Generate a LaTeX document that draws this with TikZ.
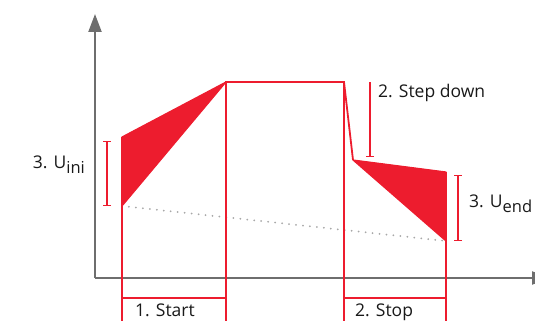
\documentclass[tikz,border=0pt]{standalone}
\usepackage{fontspec}
\setmainfont{Open Sans}
\usetikzlibrary{arrows.meta}
\definecolor{abbred}{HTML}{ED1C2E}
\definecolor{axisgray}{HTML}{6E6E6E}
\definecolor{dotgray}{HTML}{A8A8A8}
\tikzstyle{axis} = [draw=axisgray, line width=2.2pt, -{Triangle[length=18pt,width=13pt]}]
\tikzstyle{curve} = [draw=abbred, line width=1.8pt, line join=miter]
\tikzstyle{band} = [fill=abbred, draw=abbred, line width=1.2pt, line join=round]
\tikzstyle{span} = [draw=abbred, line width=1.4pt, {Bar[width=8pt]}-{Bar[width=8pt]}]
\tikzstyle{label} = [font=\fontsize{17.5}{19}\selectfont, text=black!90, inner sep=0pt]
\newcommand{\lowidx}[1]{{\fontsize{16.5}{17}\selectfont\raisebox{-5pt}{#1}}}

\begin{document}
\begin{tikzpicture}[x=1pt, y=-1pt]
	\useasboundingbox (0,0) rectangle (535,321);

	% axes
	\coordinate (origin) at (95,278);
	\coordinate (ytop) at (95,14);
	\coordinate (xend) at (550,278);
	\draw [axis] (origin) -- (ytop);
	\draw [axis] (origin) -- (xend);

	% points of the curve
	\coordinate (uini) at (122,206);
	\coordinate (start) at (122,137);
	\coordinate (peak) at (226,82);
	\coordinate (hold) at (344,82);
	\coordinate (step) at (353,160);
	\coordinate (stop) at (446,172);
	\coordinate (uend) at (446,241);

	% reference line
	\draw [dotgray, line width=2pt, line cap=round, dash pattern=on 0pt off 7pt] (uini) -- (uend);

	% bands
	\draw [band] (start) -- (peak) -- (uini) -- cycle;
	\draw [band] (step) -- (stop) -- (uend) -- cycle;

	% curve and limits
	\draw [curve] (122,330) -- (start);
	\draw [curve] (226,330) -- (peak) -- (hold) -- (step);
	\draw [curve] (344,330) -- (hold);
	\draw [curve] (446,330) -- (stop);

	% spans
	\draw [span] (107,141) -- (107,206);
	\draw [draw=abbred, line width=1.4pt, -{Bar[width=8pt]}] (370,82) -- (370,157);
	\draw [span] (458,175) -- (458,241);
	\draw [span, {Bar[width=6pt]}-{Bar[width=6pt]}] (122,298) -- (226,298);
	\draw [span, {Bar[width=6pt]}-{Bar[width=6pt]}] (344,298) -- (446,298);

	% labels
	\node (lini) [label, anchor=base east] at (85,168) {3. U\lowidx{ini}};
	\node (lstep) [label, anchor=base west] at (378,97) {2. Step down};
	\node (lend) [label, anchor=base west] at (469,207) {3. U\lowidx{end}};
	\node (lstart) [label, anchor=base west] at (135,316) {1. Start};
	\node (lstop) [label, anchor=base west] at (355,316) {2. Stop};
\end{tikzpicture}
\end{document}
